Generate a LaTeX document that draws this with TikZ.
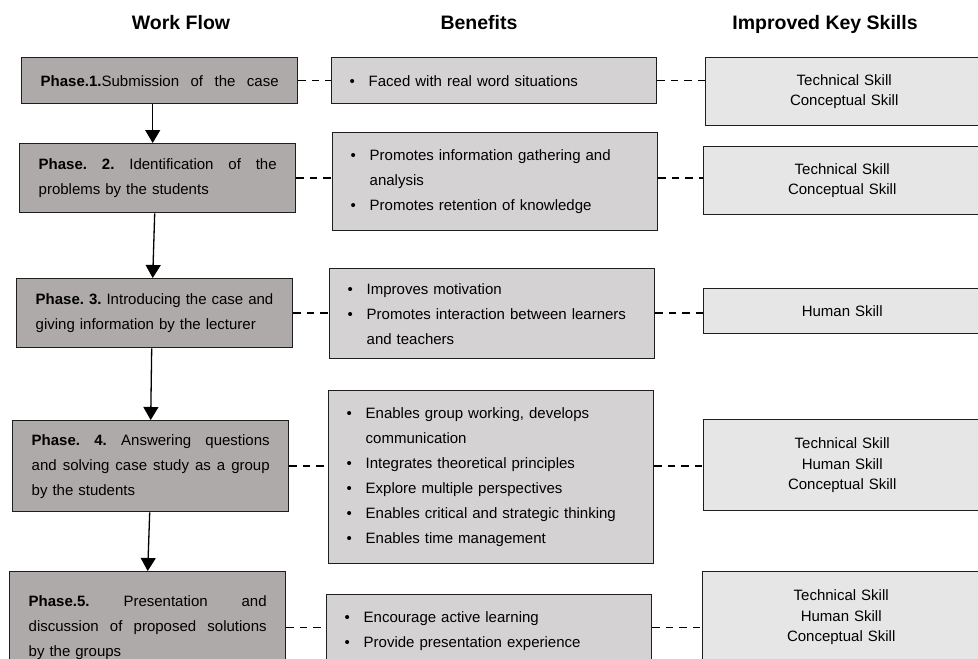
\documentclass[tikz,border=0pt]{standalone}
\usepackage{fontspec}
\setmainfont{Liberation Sans}
\usetikzlibrary{arrows.meta}
\frenchspacing

\definecolor{phasegray}{RGB}{174,170,169}
\definecolor{benefitgray}{RGB}{212,210,210}
\definecolor{skillgray}{RGB}{230,230,230}
\definecolor{edgegray}{RGB}{30,30,30}

\newcommand{\jline}[1]{\leavevmode\hbox to 238pt{#1}}
\newcommand{\bul}{\makebox[22pt][l]{\hspace{3pt}\textbullet}}
\newcommand{\cont}{\hspace*{22pt}}

\tikzset{
  box/.style={draw=edgegray, line width=1.4pt, anchor=north west, inner ysep=0pt,
    font=\fontsize{15}{25}\selectfont},
  phasebox/.style={box, fill=phasegray, inner xsep=19pt, text width=238pt, align=left},
  benefitbox/.style={box, fill=benefitgray, inner xsep=15pt, text width=295pt, align=left},
  skillbox/.style={box, fill=skillgray, inner xsep=0pt, text width=277pt, align=center,
    font=\fontsize{15}{20.5}\selectfont},
  header/.style={font=\fontsize{19.5}{22}\selectfont\bfseries, anchor=base},
  flowarrow/.style={line width=1.3pt, -{Triangle[width=15pt,length=13pt]}},
  dashlink/.style={line width=1.5pt, dash pattern=on 7.5pt off 6pt},
}

\begin{document}
\begin{tikzpicture}[x=1pt,y=-1pt]
\useasboundingbox (0,0) rectangle (978,659);
\clip (0,0) rectangle (978,659);

% column headers
\node[header] (hflow) at (181,29) {Work Flow};
\node[header] (hbenefit) at (479,29) {Benefits};
\node[header] (hskill) at (825,29) {Improved Key Skills};

% work flow
\node[phasebox, minimum height=46pt] (p1) at (21,57)
  {\jline{\textbf{Phase.1.}Submission\hfill of\hfill the\hfill case}};
\node[phasebox, minimum height=69pt] (p2) at (19,143)
  {\jline{\textbf{Phase.\hfill 2.}\hfill Identification\hfill of\hfill the}\\ problems by the students};
\node[phasebox, minimum height=69pt] (p3) at (16,278)
  {\textbf{Phase. 3.} Introducing the case and\\ giving information by the lecturer};
\node[phasebox, minimum height=91pt] (p4) at (12,420)
  {\jline{\textbf{Phase.\hfill 4.}\hfill Answering\hfill questions}\\
   \jline{and\hfill solving\hfill case\hfill study\hfill as\hfill a\hfill group}\\ by the students};
\node[phasebox, minimum height=112pt] (p5) at (9,571)
  {\jline{\textbf{Phase.5.}\hfill Presentation\hfill and}\\
   \jline{discussion\hfill of\hfill proposed\hfill solutions}\\ by the groups};

% benefits
\node[benefitbox, minimum height=46pt] (b1) at (331,57)
  {\bul Faced with real word situations};
\node[benefitbox, minimum height=98pt] (b2) at (332,132)
  {\bul Promotes information gathering and\\ \cont analysis\\
   \bul Promotes retention of knowledge};
\node[benefitbox, minimum height=90pt] (b3) at (329,268)
  {\bul Improves motivation\\ \bul Promotes interaction between learners\\
   \cont and teachers};
\node[benefitbox, minimum height=173pt] (b4) at (328,390)
  {\bul Enables group working, develops\\ \cont communication\\
   \bul Integrates theoretical principles\\ \bul Explore multiple perspectives\\
   \bul Enables critical and strategic thinking\\ \bul Enables time management};
\node[benefitbox, minimum height=72pt] (b5) at (326,594)
  {\bul Encourage active learning\\ \bul Provide presentation experience};

% key skills
\node[skillbox, minimum height=68pt] (s1) at (705,57) {Technical Skill\\ Conceptual Skill};
\node[skillbox, minimum height=68pt] (s2) at (703,146) {Technical Skill\\ Conceptual Skill};
\node[skillbox, minimum height=45pt] (s3) at (703,288) {Human Skill};
\node[skillbox, minimum height=91pt] (s4) at (703,419) {Technical Skill\\ Human Skill\\ Conceptual Skill};
\node[skillbox, minimum height=91pt] (s5) at (702,571) {Technical Skill\\ Human Skill\\ Conceptual Skill};

% arrows down the work flow
\draw[flowarrow] ([xshift=-7pt]p1.south) -- ([xshift=-5pt]p2.north);
\draw[flowarrow] ([xshift=-3pt]p2.south) -- ([xshift=-2pt]p3.north);
\draw[flowarrow] ([xshift=-3pt]p3.south) -- (p4.north);
\draw[flowarrow] ([xshift=-1pt]p4.south) -- (p5.north);

% dashed links across each row
\foreach \i in {1,...,5} {
  \draw[dashlink] (p\i.east) -- (p\i.east -| b\i.west);
  \draw[dashlink] (p\i.east -| b\i.east) -- (p\i.east -| s\i.west);
}
\end{tikzpicture}
\end{document}
